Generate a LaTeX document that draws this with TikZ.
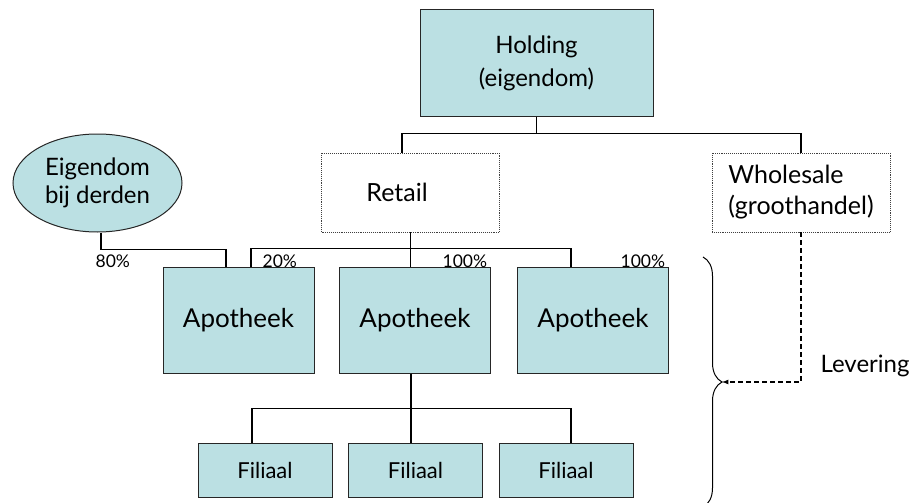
\documentclass[tikz,border=0pt]{standalone}
\usepackage{fontspec}
\setmainfont{Lato}
\usepackage{tikz}
\usetikzlibrary{shapes.geometric,decorations.pathreplacing}
\definecolor{unitfill}{HTML}{BBE0E3}

\begin{document}
\begin{tikzpicture}[x=1pt,y=-1pt,line width=1.2pt]
    %
    % `unit' is used for the filled boxes (holding, apotheken, filialen).
    % `division' is used for the dotted boxes (retail, wholesale).
    % `share' is used for the percentages.
    \tikzstyle{unit} = [draw=black!85,fill=unitfill,line width=1pt,inner sep=0pt,align=center]
    \tikzstyle{division} = [draw=black!75,densely dotted,line width=0.9pt,inner sep=0pt,align=left]
    \tikzstyle{share} = [anchor=base west,inner sep=0pt,font=\fontsize{17.5}{20}\selectfont]
    %
    \useasboundingbox (0,0) rectangle (919,503);
    %
    % Holding
    \node[unit,minimum width=233pt,minimum height=106pt,font=\fontsize{24}{33}\selectfont] (hold) at (536.5,63) {Holding\\(eigendom)};
    %
    % Divisions
    \node[division,minimum width=178pt,minimum height=79pt,font=\fontsize{25}{32}\selectfont] (retail) at (410.5,192.5) {Retail\hspace*{27pt}};
    \node[division,minimum width=178pt,minimum height=79pt,font=\fontsize{25}{32}\selectfont] (whole) at (801,192.5) {Wholesale\\[-1pt](groothandel)};
    \draw (hold.south) -- ++(0,17) -| ([xshift=-8.5pt]retail.north);
    \draw (hold.south) -- ++(0,17) -| (whole.north);
    %
    % Other owner
    \node[unit,ellipse,minimum width=169pt,minimum height=98pt,font=\fontsize{24}{28}\selectfont] (eig) at (97.5,183) {Eigendom\\bij derden};
    %
    % Apotheken
    \node[unit,minimum width=151pt,minimum height=106pt,font=\fontsize{26}{30}\selectfont] (apo1) at (238.5,320) {Apotheek};
    \node[unit,minimum width=151pt,minimum height=106pt,font=\fontsize{26}{30}\selectfont] (apo2) at (415,320) {Apotheek};
    \node[unit,minimum width=151pt,minimum height=106pt,font=\fontsize{26}{30}\selectfont] (apo3) at (593,320) {Apotheek};
    \draw ([xshift=3.5pt]eig.south) -- ++(0,17) -| ([xshift=-12.5pt]apo1.north);
    \draw ([xshift=12.5pt]apo1.north) -- ++(0,-18) -| ([xshift=-22pt]apo3.north);
    \draw (retail.south) -- (retail.south |- apo2.north);
    %
    % Shares
    \node[share] (s80) at (95,267) {80\%};
    \node[share] (s20) at (262,267) {20\%};
    \node[share] (s100a) at (442,267) {100\%};
    \node[share] (s100b) at (620,267) {100\%};
    %
    % Filialen
    \node[unit,minimum width=134pt,minimum height=54pt,font=\fontsize{22}{28}\selectfont] (fil1) at (265,470) {Filiaal};
    \node[unit,minimum width=134pt,minimum height=54pt,font=\fontsize{22}{28}\selectfont] (fil2) at (415.5,470) {Filiaal};
    \node[unit,minimum width=134pt,minimum height=54pt,font=\fontsize{22}{28}\selectfont] (fil3) at (566,470) {Filiaal};
    \draw ([xshift=-4pt]apo2.south) -- ++(0,35) -| ([xshift=-13pt]fil1.north);
    \draw ([xshift=-4pt]apo2.south) -- ++(0,35) -| ([xshift=5pt]fil3.north);
    \draw ([xshift=-4pt]apo2.south) -- ([xshift=-4.5pt]fil2.north);
    %
    % Levering
    \coordinate (brtip) at (722,382);
    \draw[line width=1pt,decorate,decoration={brace,amplitude=19pt}] (703,257) -- (703,507);
    \draw[dash pattern=on 5pt off 3pt,-latex] (whole.south) |- (brtip);
    \node[anchor=base west,inner sep=0pt,font=\fontsize{24}{28}\selectfont] (lev) at (820,372) {Levering};
    %
\end{tikzpicture}
\end{document}
